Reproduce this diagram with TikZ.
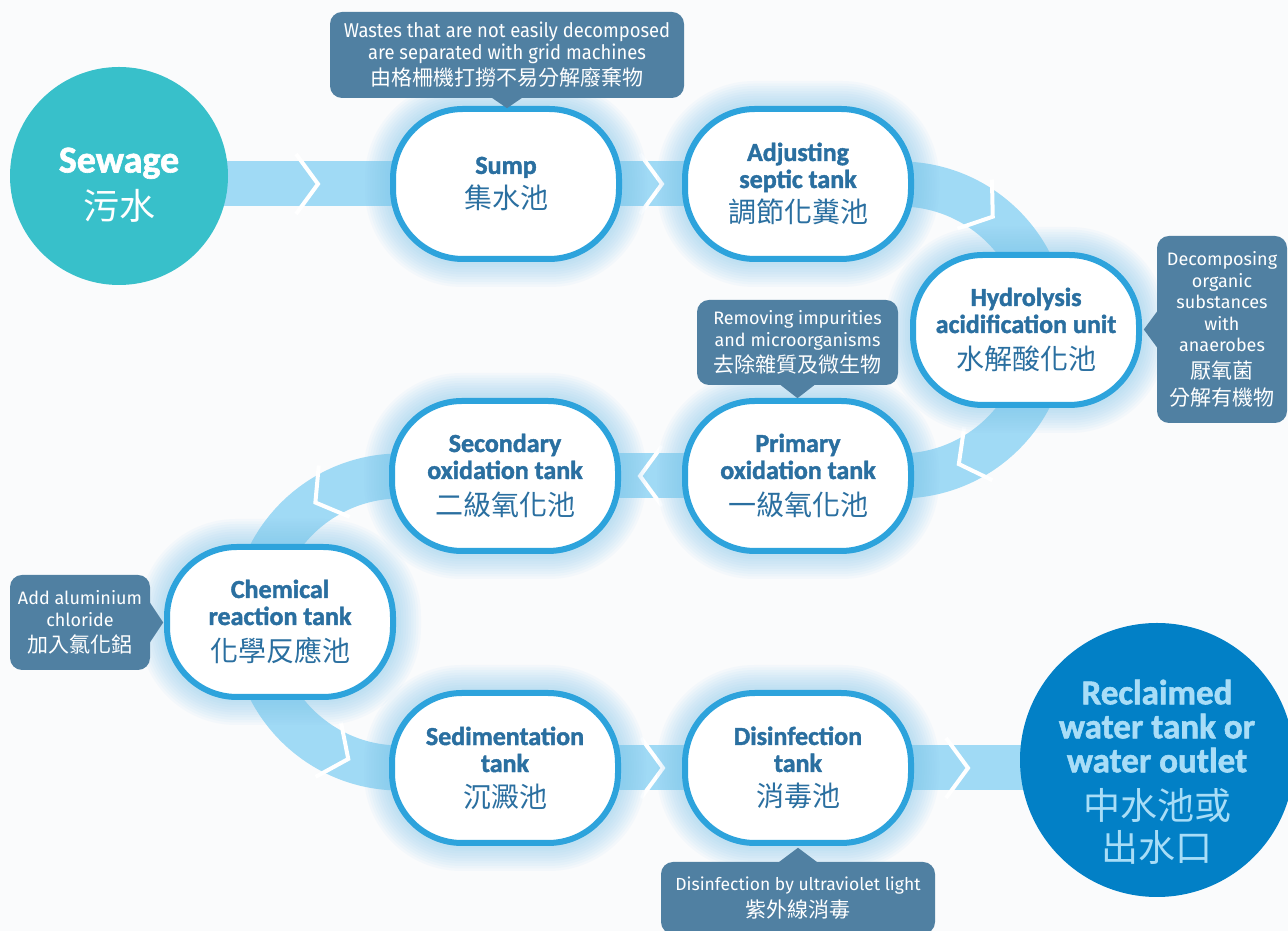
\documentclass[tikz,border=0pt]{standalone}
\usepackage{fontspec}
\usetikzlibrary{calc}
\setmainfont{Fira Sans}
\newfontfamily\enfont[BoldFeatures={FakeBold=1.6}]{Carlito}
\newfontfamily\cofont{Fira Sans}
\newfontfamily\cofontc[FakeStretch=0.92]{Fira Sans}
\newfontfamily\zhfont{Noto Sans CJK TC}
\definecolor{tankline}{HTML}{2DA3DC}
\definecolor{tanktext}{HTML}{2A6FA0}
\definecolor{bandc}{HTML}{A0DAF5}
\definecolor{sewc}{HTML}{38C0CA}
\definecolor{recc}{HTML}{0280C6}
\definecolor{rectext}{HTML}{A8DDF7}
\definecolor{callc}{HTML}{5080A2}
\definecolor{glowc}{HTML}{7CC4EE}
\definecolor{bgc}{HTML}{FAFBFC}
\pgfdeclarelayer{bg}
\pgfdeclarelayer{glowl}
\pgfsetlayers{bg,glowl,main}
\newcommand\nols{\lineskiplimit=-100pt\relax}
\newcommand\ENf{\enfont\bfseries\fontsize{26}{27}\selectfont\nols}
\newcommand\ZHf{\zhfont\mdseries\fontsize{28}{30}\selectfont}
\newcommand\COf{\cofont\fontsize{18}{21.5}\selectfont\nols}
\newcommand\COcf{\cofontc\fontsize{20}{22}\selectfont\nols}
\newcommand\COmf{\cofont\fontsize{18}{21.5}\selectfont\nols}
\newcommand\COsf{\cofont\fontsize{17.5}{22}\selectfont\nols}
\newcommand\ZHs{\zhfont\mdseries\fontsize{21}{24}\selectfont}
\newcommand\SEWf{\enfont\bfseries\fontsize{38}{40}\selectfont\nols}
\newcommand\SEWz{\zhfont\mdseries\fontsize{36}{40}\selectfont}
\newcommand\RECf{\enfont\bfseries\fontsize{35}{34}\selectfont\nols}
\newcommand\RECz{\zhfont\mdseries\fontsize{37}{40}\selectfont}
\newcommand\tankglow[1]{%
  \foreach \g in {1,...,10}{%
    \pgfmathsetmacro\gw{232+5*\g}\pgfmathsetmacro\gh{156+5*\g}\pgfmathsetmacro\gr{72+2.5*\g}%
    \fill[glowc, opacity=0.055, rounded corners=\gr pt] ($(#1)+(-\gw/2,-\gh/2)$) rectangle ($(#1)+(\gw/2,\gh/2)$);}}
\tikzset{
  tank/.style={draw=tankline, line width=6pt, fill=white, rounded corners=70pt,
    minimum width=226pt, minimum height=150pt, align=center, text=tanktext,
    inner sep=0pt, font=\ENf},
  band/.style={draw=bandc, line width=45pt},
  chev/.style={draw=white, line width=4pt, line join=miter},
  callout/.style={fill=callc, rounded corners=12pt, text=white, align=center,
    inner sep=0pt, font=\COf},
  callptr/.style={fill=callc},
}
\begin{document}
\begin{tikzpicture}[x=1pt,y=1pt]
\useasboundingbox (0,0) rectangle (1288,931);
\begin{pgfonlayer}{bg}
  \fill[bgc] (0,0) rectangle (1288,931);
\end{pgfonlayer}

% circles
\node[circle, fill=sewc, minimum size=218pt, inner sep=0pt] (sewage) at (119,755) {};
\node[text=white, align=center, font=\SEWf, inner sep=0pt] (sewagetext) at (119,746)
  {Sewage\\[7pt]{\SEWz 污水}};
\node[circle, fill=recc, minimum size=274pt, inner sep=0pt] (reclaimed) at (1157,171) {};
\node[text=rectext, align=center, font=\RECf, inner sep=0pt] (reclaimedtext) at (1157,159)
  {Reclaimed\\water tank or\\water outlet\\[13pt]{\RECz 中水池或}\\[8pt]{\RECz 出水口}};

% tanks
\node[tank] (sump) at (506,747) {Sump\\[8pt]{\ZHf 集水池}};
\node[tank] (adjust) at (798,747) {Adjusting\\septic tank\\[8pt]{\ZHf 調節化糞池}};
\node[tank] (hydro) at (1026,601) {Hydrolysis\\acidification unit\\[10pt]{\ZHf 水解酸化池}};
\node[tank] (primary) at (798,455) {Primary\\oxidation tank\\[10pt]{\ZHf 一級氧化池}};
\node[tank] (secondary) at (505,455) {Secondary\\oxidation tank\\[10pt]{\ZHf 二級氧化池}};
\node[tank] (chem) at (280,309) {Chemical\\reaction tank\\[10pt]{\ZHf 化學反應池}};
\node[tank] (sed) at (505,163) {Sedimentation\\tank\\[8pt]{\ZHf 沉澱池}};
\node[tank] (dis) at (798,163) {Disinfection\\tank\\[8pt]{\ZHf 消毒池}};

\coordinate (rc1) at (900,601);
\coordinate (rc2) at (400,309);

% callouts
\node[callout, minimum width=354pt, minimum height=86pt, font=\COcf] (c1) at (507,876)
  {Wastes that are not easily decomposed\\are separated with grid machines\\[4pt]{\ZHs 由格柵機打撈不易分解廢棄物}};
\node[callout, minimum width=130pt, minimum height=187pt] (c2) at (1222,601.5)
  {Decomposing\\organic\\substances\\with\\anaerobes\\[5pt]{\ZHs 厭氧菌}\\[5.5pt]{\ZHs 分解有機物}};
\node[callout, minimum width=201pt, minimum height=85pt, font=\COmf] (c3) at (797.5,588.5)
  {Removing impurities\\and microorganisms\\[4.5pt]{\ZHs 去除雜質及微生物}};
\node[callout, minimum width=140pt, minimum height=95pt] (c4) at (80,308.5)
  {Add aluminium\\chloride\\[4.5pt]{\ZHs 加入氯化鋁}};
\node[callout, minimum width=274pt, minimum height=72pt, font=\COsf] (c5) at (798,33)
  {Disinfection by ultraviolet light\\[5pt]{\ZHs 紫外線消毒}};

\fill[callptr] ($(c1.south)+(-16,1)$) -- ($(c1.south)+(16,1)$) -- ($(c1.south)+(0,-10)$) -- cycle;
\fill[callptr] ($(c2.west)+(1,19)$) -- ($(c2.west)+(1,-19)$) -- ($(c2.west)+(-13,0)$) -- cycle;
\fill[callptr] ($(c3.south)+(-18,1)$) -- ($(c3.south)+(18,1)$) -- ($(c3.south)+(0,-13)$) -- cycle;
\fill[callptr] ($(c4.east)+(-1,21)$) -- ($(c4.east)+(-1,-21)$) -- ($(c4.east)+(13,0)$) -- cycle;
\fill[callptr] ($(c5.north)+(-20,-1)$) -- ($(c5.north)+(20,-1)$) -- ($(c5.north)+(0,14)$) -- cycle;

% glow
\begin{pgfonlayer}{glowl}
  \tankglow{sump}\tankglow{adjust}\tankglow{hydro}\tankglow{primary}
  \tankglow{secondary}\tankglow{chem}\tankglow{sed}\tankglow{dis}
\end{pgfonlayer}

% bands
\begin{pgfonlayer}{bg}
  \draw[band] (sewage.center |- sump.center) -- (sump.center);
  \draw[band] (sump.center) -- (adjust.center);
  \draw[band] (adjust.center) -- (adjust.center -| rc1) arc[start angle=90, end angle=-90, radius=146pt] -- (primary.center);
  \draw[band] (primary.center) -- (secondary.center);
  \draw[band] (secondary.center) -- (secondary.center -| rc2) arc[start angle=90, end angle=270, radius=146pt] -- (sed.center);
  \draw[band] (sed.center) -- (dis.center);
  \draw[band] (dis.center) -- (reclaimed.center |- dis.center);
  % chevrons
  \draw[chev, shift={($(sump.center)+(-199,0)$)}] (-11,30) -- (11,0) -- (-11,-30);
  \draw[chev, shift={($(sump.center)+(145,0)$)}] (-11,30) -- (11,0) -- (-11,-30);
  \draw[chev, shift={($(primary.center)+(-147,0)$)}, rotate=180] (-11,30) -- (11,0) -- (-11,-30);
  \draw[chev, shift={($(dis.center)+(-146,0)$)}] (-11,30) -- (11,0) -- (-11,-30);
  \draw[chev, shift={($(dis.center)+(159,0)$)}] (-11,30) -- (11,0) -- (-11,-30);
  \draw[chev, shift={($(rc1)+(55:146)$)}, rotate=-35] (-11,30) -- (11,0) -- (-11,-30);
  \draw[chev, shift={($(rc1)+(-62:146)$)}, rotate=-152] (-11,30) -- (11,0) -- (-11,-30);
  \draw[chev, shift={($(rc2)+(121:146)$)}, rotate=211] (-11,30) -- (11,0) -- (-11,-30);
  \draw[chev, shift={($(rc2)+(245:146)$)}, rotate=335] (-11,30) -- (11,0) -- (-11,-30);
\end{pgfonlayer}
\end{tikzpicture}
\end{document}
